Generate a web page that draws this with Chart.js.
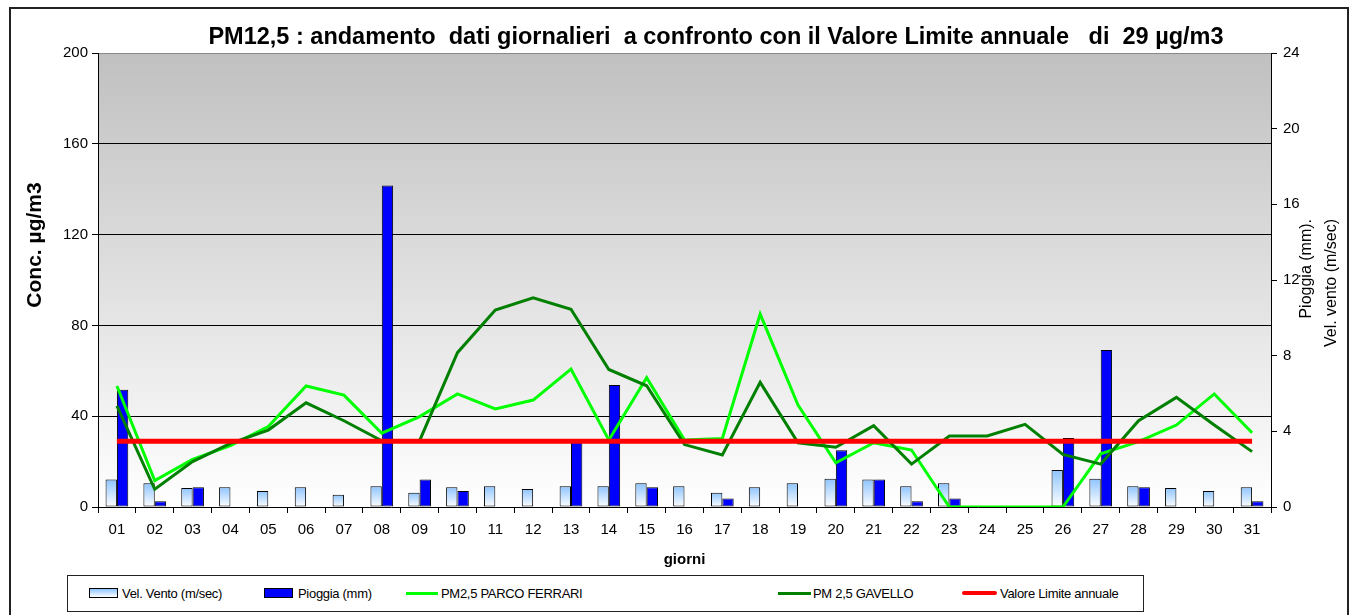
<!DOCTYPE html>
<html>
<head>
<meta charset="utf-8">
<script src="https://cdn.jsdelivr.net/npm/chart.js@4.4.1/dist/chart.umd.min.js"></script>
<style>
  html, body { margin:0; padding:0; background:#fff; }
  body { width:1353px; height:615px; position:relative; overflow:hidden; font-family:"Liberation Sans", Arial, sans-serif; }
  #frame { position:absolute; left:9px; top:7px; width:1336px; height:700px; border:2px solid #222; }
  #wrap { position:absolute; left:0; top:0; width:1353px; height:615px; }
  #legend { position:absolute; left:67px; top:575px; width:1075px; height:35px; border:1px solid #222; background:#fff; font-size:13px; color:#000; }
  .it { position:absolute; top:0; height:35px; line-height:35px; white-space:nowrap; letter-spacing:-0.3px; }
  .sw { position:absolute; }
</style>
</head>
<body>
<div id="frame"></div>
<div id="wrap"><canvas id="c" width="1353" height="615"></canvas></div>
<div id="legend">
  <div class="sw" style="left:21px;top:12px;width:27px;height:8px;border:1px solid #000;background:linear-gradient(#8ec4ff,#ffffff);"></div>
  <div class="it" style="left:54px;">Vel. Vento (m/sec)</div>
  <div class="sw" style="left:196px;top:12px;width:27px;height:8px;border:1px solid #000;background:#0000ff;"></div>
  <div class="it" style="left:230px;">Pioggia (mm)</div>
  <div class="sw" style="left:338px;top:16px;width:32px;height:3px;background:#00ff00;"></div>
  <div class="it" style="left:373px;">PM2,5 PARCO FERRARI</div>
  <div class="sw" style="left:710px;top:16px;width:33px;height:3px;background:#008000;"></div>
  <div class="it" style="left:745px;">PM 2,5 GAVELLO</div>
  <div class="sw" style="left:894px;top:15px;width:35px;height:4px;border-radius:2px;background:#ff0000;"></div>
  <div class="it" style="left:932px;">Valore Limite annuale</div>
</div>
<script>
const giorni = ['01','02','03','04','05','06','07','08','09','10','11','12','13','14','15','16','17','18','19','20','21','22','23','24','25','26','27','28','29','30','31'];
const velVento = [1.45,1.25,1.0,1.05,0.85,1.05,0.65,1.1,0.75,1.05,1.1,0.95,1.1,1.1,1.25,1.1,0.75,1.05,1.25,1.5,1.45,1.1,1.25,null,null,1.95,1.5,1.1,1.0,0.85,1.05];
const pioggia = [6.2,0.3,1.05,null,null,null,null,17.0,1.45,0.85,null,null,3.5,6.45,1.05,null,0.45,null,null,3.0,1.45,0.3,0.45,null,null,3.65,8.3,1.05,null,null,0.3];
const parcoFerrari = [53.3,11.6,21.0,27.0,35.4,53.3,49.3,32.5,39.8,49.8,43.2,47.1,60.8,29.5,57.0,29.5,30.2,85.0,44.9,19.5,28.3,25.1,0,0,0,0,23.4,28.8,36.1,49.8,32.7];
const gavello = [44.5,7.8,20.0,28.0,33.9,45.9,38.0,29.2,29.2,68.0,86.8,92.2,87.1,60.6,53.4,27.5,22.9,54.9,28.3,26.3,35.8,18.9,31.3,31.3,36.4,23.2,18.9,38.0,48.3,36.1,24.4];
const limiteAnnuale = giorni.map(() => 29);
const concTicks = [0,40,80,120,160,200];
const meteoTicks = [0,4,8,12,16,20,24];

Chart.defaults.font.family = '"Liberation Sans", Arial, sans-serif';
Chart.defaults.color = '#000';

const bgPlugin = {
  id: 'bgPlugin',
  beforeDraw(chart) {
    const {ctx, chartArea:a} = chart;
    const g = ctx.createLinearGradient(0, a.top, 0, a.bottom);
    g.addColorStop(0, '#c0c0c0');
    g.addColorStop(1, '#ffffff');
    ctx.save();
    ctx.fillStyle = g;
    ctx.fillRect(a.left, a.top, a.right - a.left, a.bottom - a.top);
    ctx.restore();
  },
  afterDraw(chart) {
    const ctx = chart.ctx;
    ctx.save();
    ctx.fillStyle = '#000';
    ctx.font = 'bold 23.5px "Liberation Sans", Arial, sans-serif';
    ctx.textAlign = 'center';
    ctx.textBaseline = 'middle';
    ctx.fillText('PM12,5 : andamento  dati giornalieri  a confronto con il Valore Limite annuale   di  29 µg/m3', 716, 38);
    ctx.restore();
    ctx.save();
    ctx.translate(35, 245);
    ctx.rotate(-Math.PI/2);
    ctx.font = 'bold 21px "Liberation Sans", Arial, sans-serif';
    ctx.textAlign = 'center';
    ctx.textBaseline = 'middle';
    ctx.fillText('Conc. µg/m3', 0, 0);
    ctx.restore();
    ctx.save();
    ctx.font = '16px "Liberation Sans", Arial, sans-serif';
    ctx.textAlign = 'right';
    ctx.textBaseline = 'middle';
    ctx.translate(1307, 219);
    ctx.rotate(-Math.PI/2);
    ctx.fillText('Pioggia (mm).', 0, 0);
    ctx.restore();
    ctx.save();
    ctx.font = '16px "Liberation Sans", Arial, sans-serif';
    ctx.textAlign = 'right';
    ctx.textBaseline = 'middle';
    ctx.translate(1332, 219);
    ctx.rotate(-Math.PI/2);
    ctx.fillText('Vel. vento (m/sec)', 0, 0);
    ctx.restore();
  }
};

function ventoFill(c) {
  const chart = c.chart;
  if (!chart.chartArea || c.raw == null) return '#b8dcff';
  const ys = chart.scales.y2;
  const top = ys.getPixelForValue(c.raw), bot = ys.getPixelForValue(0);
  const g = chart.ctx.createLinearGradient(0, top, 0, bot);
  g.addColorStop(0, '#8ec4ff');
  g.addColorStop(1, '#ffffff');
  return g;
}

new Chart(document.getElementById('c'), {
  data: {
    labels: giorni,
    datasets: [
      { type:'line', label:'Valore Limite annuale', data:limiteAnnuale, yAxisID:'y', borderColor:'#ff0000', borderWidth:5, pointRadius:0, order:1 },
      { type:'line', label:'PM 2,5 GAVELLO', data:gavello, yAxisID:'y', borderColor:'#008000', borderWidth:3, pointRadius:0, order:2 },
      { type:'line', label:'PM2,5 PARCO FERRARI', data:parcoFerrari, yAxisID:'y', borderColor:'#00ff00', borderWidth:3, pointRadius:0, order:3 },
      { type:'bar', label:'Vel. Vento (m/sec)', data:velVento, yAxisID:'y2', backgroundColor:ventoFill, borderColor:'#000', borderWidth:1, borderSkipped:false, categoryPercentage:0.6, barPercentage:1.0, order:4 },
      { type:'bar', label:'Pioggia (mm)', data:pioggia, yAxisID:'y2', backgroundColor:'#0000ff', borderColor:'#000', borderWidth:1, borderSkipped:false, categoryPercentage:0.6, barPercentage:1.0, order:5 }
    ]
  },
  options: {
    responsive:false,
    animation:false,
    events:[],
    layout:{ padding:{ top:53, left:0, right:0, bottom:0 } },
    plugins:{ legend:{display:false}, tooltip:{enabled:false}, title:{display:false} },
    scales:{
      x:{
        type:'category', offset:true,
        grid:{ display:true, offset:true, drawOnChartArea:false, drawTicks:true, tickLength:6, color:'#000', tickColor:'#000' },
        border:{ display:true, color:'#000', width:1 },
        ticks:{ color:'#000', font:{size:15}, padding:8, maxRotation:0, autoSkip:false },
        title:{ display:true, text:'giorni', color:'#000', font:{size:15, weight:'bold'}, padding:{top:0, bottom:46} },
        afterFit(s){ s.height = 108; }
      },
      y:{
        position:'left', min:0, max:200,
        afterBuildTicks(s){ s.ticks = concTicks.map(v => ({value:v})); },
        grid:{ drawOnChartArea:true, drawTicks:true, tickLength:6, tickColor:'#000',
               color(c){ return c.tick && c.tick.value === 200 ? '#888888' : (c.tick && c.tick.value === 0 ? 'rgba(0,0,0,0)' : '#000'); } },
        border:{ display:true, color:'#000', width:1 },
        ticks:{ color:'#000', font:{size:15}, padding:4 },
        afterFit(s){ s.width = 98; }
      },
      y2:{
        position:'right', min:0, max:24,
        afterBuildTicks(s){ s.ticks = meteoTicks.map(v => ({value:v})); },
        grid:{ drawOnChartArea:false, drawTicks:true, tickLength:6, tickColor:'#000', color:'#000' },
        border:{ display:true, color:'#000', width:1 },
        ticks:{ color:'#000', font:{size:15}, padding:6 },
        afterFit(s){ s.width = 82; }
      }
    }
  },
  plugins:[bgPlugin]
});
</script>
</body>
</html>
